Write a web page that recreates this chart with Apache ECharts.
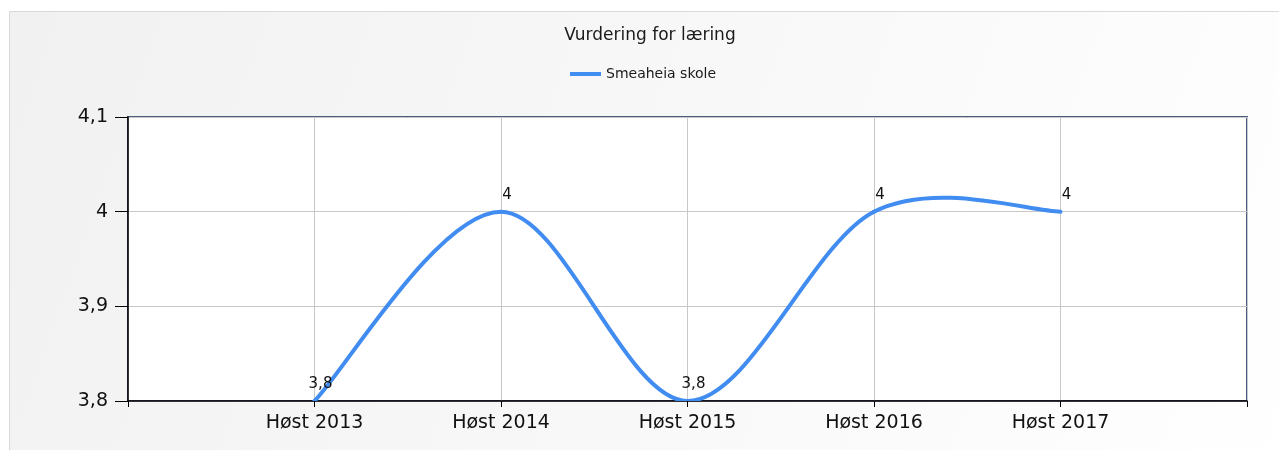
<!DOCTYPE html>
<html>
<head>
<meta charset="utf-8">
<script src="https://cdn.jsdelivr.net/npm/echarts@6/dist/echarts.min.js"></script>
<style>
html,body{margin:0;padding:0;background:#fff;}
#chart{width:1279px;height:450px;}
</style>
</head>
<body>
<div id="chart"></div>
<script>
const chartTitle = 'Vurdering for læring';
const seriesName = 'Smeaheia skole';
const categories = ['Høst 2013', 'Høst 2014', 'Høst 2015', 'Høst 2016', 'Høst 2017'];
const values = [3.8, 4.0, 3.8, 4.0, 4.0];
const yMin = 3.8, yMax = 4.1, yStep = 0.1;

// pad one empty slot on each side, as the reference axis does
const axisCats = [''].concat(categories, ['']);
const seriesData = [null].concat(values, [null]);
// [categoryIndex, value] pairs for the spline
const splinePts = values.map((v, i) => [i + 1, v]);

const fmt = v => (Math.round(v * 10) / 10).toString().replace('.', ',');

const LINE_COLOR = '#418CF0';
const font = 'DejaVu Sans';

// cardinal spline (tension 0.5) segment between point k and k+1, via the axes' own coord mapping
function renderSegment(params, api) {
  const k = params.dataIndex;
  if (k >= splinePts.length - 1) return null;
  const P = i => api.coord(splinePts[Math.max(0, Math.min(splinePts.length - 1, i))]);
  const p0 = P(k - 1), p1 = P(k), p2 = P(k + 1), p3 = P(k + 2);
  const t = 0.5 / 3;
  return {
    type: 'bezierCurve',
    shape: {
      x1: p1[0], y1: p1[1],
      cpx1: p1[0] + t * (p2[0] - p0[0]), cpy1: p1[1] + t * (p2[1] - p0[1]),
      cpx2: p2[0] - t * (p3[0] - p1[0]), cpy2: p2[1] - t * (p3[1] - p1[1]),
      x2: p2[0], y2: p2[1]
    },
    style: { stroke: LINE_COLOR, lineWidth: 4, fill: null, lineCap: 'round' }
  };
}

const chart = echarts.init(document.getElementById('chart'));
chart.setOption({
  backgroundColor: '#ffffff',
  animation: false,
  graphic: [{
    type: 'rect', z: -10, silent: true,
    shape: { x: 9.5, y: 11.5, width: 1300, height: 460 },
    style: {
      fill: new echarts.graphic.LinearGradient(0, 0, 1, 1, [
        { offset: 0, color: '#f1f1f1' },
        { offset: 1, color: '#ffffff' }
      ]),
      stroke: '#d9d9d9', lineWidth: 1
    }
  }],
  title: {
    text: chartTitle,
    left: 645, top: 22, textAlign: 'center',
    textStyle: { fontFamily: font, fontSize: 17, fontWeight: 'normal', color: '#1a1a1a' }
  },
  legend: {
    top: 62, left: 565,
    icon: 'rect', itemWidth: 31, itemHeight: 4, itemGap: 10,
    textStyle: { fontFamily: font, fontSize: 14, color: '#1a1a1a' },
    data: [{ name: seriesName, itemStyle: { color: LINE_COLOR } }]
  },
  grid: {
    left: 128, right: 32, top: 117, bottom: 49,
    show: true, backgroundColor: '#ffffff', borderColor: '#4A5E80', borderWidth: 2
  },
  xAxis: {
    type: 'category', data: axisCats, boundaryGap: false,
    axisLine: { lineStyle: { color: '#000', width: 1.5 } },
    axisTick: { show: true, interval: 0, length: 6, lineStyle: { color: '#000' } },
    axisLabel: { interval: 0, margin: 13, fontFamily: font, fontSize: 19, color: '#111' },
    splitLine: { show: true, interval: 0, lineStyle: { color: '#c8c8c8', width: 1 } }
  },
  yAxis: {
    type: 'value', min: yMin, max: yMax, interval: yStep,
    axisLine: { show: true, lineStyle: { color: '#000', width: 1.5 } },
    axisTick: { show: true, length: 13, lineStyle: { color: '#000' } },
    axisLabel: { margin: 20, fontFamily: font, fontSize: 19, color: '#111', formatter: fmt },
    splitLine: { show: true, lineStyle: { color: '#c8c8c8', width: 1 } }
  },
  series: [{
    name: seriesName, type: 'custom', data: splinePts,
    renderItem: renderSegment, clip: true, z: 3,
    itemStyle: { color: LINE_COLOR },
    encode: { x: 0, y: 1 }
  }, {
    name: seriesName, type: 'line', data: seriesData,
    symbol: 'circle', symbolSize: 0.01, z: 4,
    itemStyle: { color: LINE_COLOR },
    lineStyle: { opacity: 0, width: 0 },
    label: {
      show: true, position: 'top', offset: [6, -4],
      fontFamily: font, fontSize: 15, color: '#111',
      formatter: p => fmt(p.value)
    }
  }]
});
</script>
</body>
</html>
